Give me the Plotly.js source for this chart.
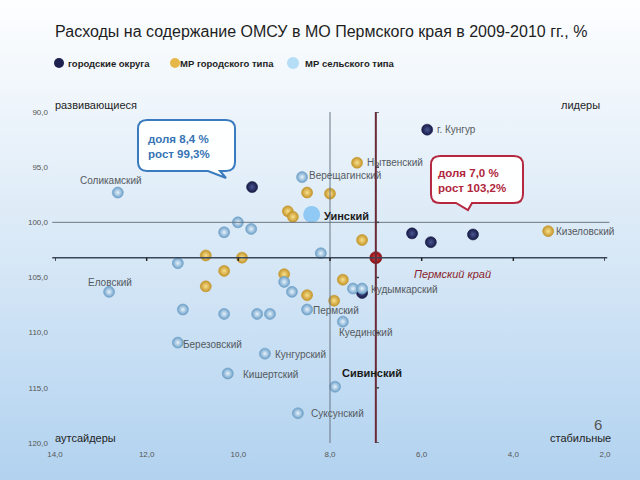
<!DOCTYPE html>
<html><head><meta charset="utf-8">
<script src="https://cdn.plot.ly/plotly-3.0.1.min.js"></script>
<style>
html,body{margin:0;padding:0;}
body{width:640px;height:480px;background:linear-gradient(180deg,#fdfeff 0%,#eef5fb 22%,#d6e7f6 55%,#bdd9f2 85%,#b2d2ef 100%);}
#chart{width:640px;height:480px;}
</style>
</head><body><div id="chart"></div>
<script>
// ---- data: share of expenses (%) on x, growth 2010/2009 (%) on y ----
const cityLabels  = ['г. Кунгур', '', '', '', '', ''];
const cityShare   = [5.88, 9.70, 6.21, 5.80, 4.88, 7.30];
const cityGrowth  = [91.6, 96.8, 101.0, 101.8, 101.1, 106.4];

const urbanLabels = ['Нытвенский', '', '', '', '', '', 'Кизеловский', '', '', '', '', '', '', '', ''];
const urbanShare  = [7.41, 8.50, 8.00, 8.92, 8.81, 7.30, 3.24, 10.71, 9.92, 10.31, 9.00, 7.72, 10.71, 8.50, 7.91];
const urbanGrowth = [94.6, 97.3, 97.4, 99.0, 99.5, 101.6, 100.8, 103.0, 103.2, 104.4, 104.7, 105.2, 105.8, 106.6, 107.1];

const ruralLabels = ['Соликамский', 'Верещагинский', '', '', '', '', '', 'Еловский', '', '', '', 'Кудымкарский', '', '', '', '', 'Пермский', 'Куединский', 'Березовский', 'Кунгурский', 'Кишертский', 'Сивинский', 'Суксунский'];
const ruralShare  = [12.63, 8.61, 10.01, 10.31, 9.72, 11.32, 8.20, 12.82, 9.00, 8.83, 7.50, 7.30, 11.21, 10.31, 9.59, 9.31, 8.50, 7.72, 11.32, 9.42, 10.23, 7.89, 8.70];
const ruralGrowth = [97.3, 95.9, 100.0, 100.9, 100.6, 103.7, 102.8, 106.3, 105.4, 106.3, 106.0, 106.0, 107.9, 108.3, 108.3, 108.3, 107.9, 109.0, 110.9, 111.9, 113.7, 114.9, 117.3];

const highlightLabel = 'Уинский';
const highlightShare = 8.4;
const highlightGrowth = 99.3;

const regionLabel = 'Пермский край';
const regionShare = 7.0;
const regionGrowth = 103.2;

const refShare = 8.0;
const refGrowth = 100.0;

const xTicks = [14, 12, 10, 8, 6, 4, 2];
const yTicks = [90, 95, 100, 105, 110, 115, 120];

const seriesNames = ['городские округа', 'МР городского типа', 'МР сельского типа'];
const quadrantLabels = ['развивающиеся', 'лидеры', 'аутсайдеры', 'стабильные'];
const titleText = 'Расходы на содержание ОМСУ в МО Пермского края в 2009-2010 гг., %';
const slideNumber = '6';

// ---- styles ----
const FONT = 'Liberation Sans, Arial, sans-serif';
const L = 55, R = 35, T = 112, B = 37, W = 640, H = 480;
const pw = W - L - R, ph = H - T - B;
const px = x => (x - L) / pw;
const py = y => (H - B - y) / ph;
const P = (x, y) => px(x).toFixed(4) + ',' + py(y).toFixed(4);
const fmt = v => v.toFixed(1).replace('.', ',');

const labelStyle = {
  'Соликамский': {a: 'center', dx: -7, dy: 12},
  'Еловский': {a: 'center', dx: 1, dy: 9},
  'Верещагинский': {a: 'left', dx: 5, dy: 2},
  'Нытвенский': {a: 'left', dx: 8, dy: 0},
  'г. Кунгур': {a: 'left', dx: 8, dy: 0},
  'Кизеловский': {a: 'left', dx: 6, dy: 0},
  'Кудымкарский': {a: 'left', dx: 7, dy: -1},
  'Пермский': {a: 'left', dx: 4, dy: -1},
  'Куединский': {a: 'left', dx: -6, dy: -11},
  'Березовский': {a: 'left', dx: 3, dy: -2},
  'Кунгурский': {a: 'left', dx: 8, dy: -1},
  'Кишертский': {a: 'left', dx: 13, dy: -1},
  'Сивинский': {a: 'left', dx: 5, dy: 14, bold: true},
  'Суксунский': {a: 'left', dx: 11, dy: 0},
  'Уинский': {a: 'left', dx: 10, dy: -1, bold: true}
};

const seriesStyle = [
  {edge: '#161a45', center: '#4a5693', legend: '#1d2150', lx: 59, tx: 68},
  {edge: '#c4952a', center: '#f8e08c', legend: '#e6b84a', lx: 175, tx: 180},
  {edge: '#6d9fc8', center: '#e6f3fc', legend: '#b6ddf6', lx: 293, tx: 305}
];

function sphere(edge, center, size) {
  return {color: edge, size: size, gradient: {type: 'radial', color: center}, line: {width: 0.6, color: edge}};
}

const seriesX = [cityShare, urbanShare, ruralShare];
const seriesY = [cityGrowth, urbanGrowth, ruralGrowth];

const traces = seriesNames.map((n, i) => ({
  type: 'scatter', mode: 'markers', name: n, x: seriesX[i], y: seriesY[i],
  marker: sphere(seriesStyle[i].edge, seriesStyle[i].center, 11), hoverinfo: 'x+y', showlegend: false
}));
traces.push({type: 'scatter', mode: 'markers', name: highlightLabel, showlegend: false, x: [highlightShare], y: [highlightGrowth],
   marker: {color: '#90c9f3', size: 17, line: {width: 0}}});
traces.push({type: 'scatter', mode: 'markers', name: regionLabel, showlegend: false, x: [regionShare], y: [regionGrowth],
   marker: sphere('#8e0c10', '#d64a4c', 12)});

const annotations = [];
function addLabels(labels, xs, ys) {
  labels.forEach((t, i) => {
    if (!t) return;
    const s = labelStyle[t] || {a: 'left', dx: 6, dy: 0};
    annotations.push({x: xs[i], y: ys[i], xref: 'x', yref: 'y', text: s.bold ? '<b>' + t + '</b>' : t,
      showarrow: false, xanchor: s.a, yanchor: 'middle', xshift: s.dx, yshift: s.dy,
      font: {family: FONT, size: s.bold ? 11 : 10, color: s.bold ? '#1a1a1a' : '#555a60'}});
  });
}
addLabels(cityLabels, cityShare, cityGrowth);
addLabels(urbanLabels, urbanShare, urbanGrowth);
addLabels(ruralLabels, ruralShare, ruralGrowth);
addLabels([highlightLabel], [highlightShare], [highlightGrowth]);
annotations.push({x: regionShare, y: regionGrowth, text: '<i>' + regionLabel + '</i>', showarrow: false,
  xanchor: 'left', yanchor: 'middle', xshift: 36, yshift: -16, font: {family: FONT, size: 11, color: '#8a1f2c'}});

// quadrant labels
const qFont = {family: FONT, size: 11, color: '#1e1e1e'};
annotations.push({xref: 'paper', yref: 'paper', x: px(53), y: py(105), text: quadrantLabels[0], showarrow: false, xanchor: 'left', yanchor: 'middle', font: qFont});
annotations.push({xref: 'paper', yref: 'paper', x: px(580), y: py(105), text: quadrantLabels[1], showarrow: false, xanchor: 'center', yanchor: 'middle', font: qFont});
annotations.push({xref: 'paper', yref: 'paper', x: px(53), y: py(438), text: quadrantLabels[2], showarrow: false, xanchor: 'left', yanchor: 'middle', font: qFont});
annotations.push({xref: 'paper', yref: 'paper', x: px(613), y: py(438), text: quadrantLabels[3], showarrow: false, xanchor: 'right', yanchor: 'middle', font: qFont});
annotations.push({xref: 'paper', yref: 'paper', x: px(598), y: py(424), text: slideNumber, showarrow: false, xanchor: 'center', yanchor: 'middle', font: {family: FONT, size: 15, color: '#555'}});

// legend (drawn manually to match the original spacing)
seriesNames.forEach((n, i) => {
  annotations.push({xref: 'paper', yref: 'paper', x: px(seriesStyle[i].tx), y: py(63), text: '<b>' + n + '</b>', showarrow: false,
    xanchor: 'left', yanchor: 'middle', xshift: -2, font: {family: FONT, size: 9.5, color: '#1e1e1e'}});
});

// callouts
annotations.push({xref: 'paper', yref: 'paper', x: px(146), y: py(146), showarrow: false, xanchor: 'left', yanchor: 'middle', align: 'left',
  text: '<b>доля ' + fmt(highlightShare) + ' %<br>рост ' + fmt(highlightGrowth) + '%</b>', font: {family: FONT, size: 11.5, color: '#3674b5'}});
annotations.push({xref: 'paper', yref: 'paper', x: px(436), y: py(180), showarrow: false, xanchor: 'left', yanchor: 'middle', align: 'left',
  text: '<b>доля ' + fmt(regionShare) + ' %<br>рост ' + fmt(regionGrowth) + '%</b>', font: {family: FONT, size: 11.5, color: '#b0263c'}});

function bubble(x0, y0, x1, y1, r, t0, tipX, tipY, t1) {
  return 'M' + P(x0 + r, y0) + ' L' + P(x1 - r, y0) + ' Q' + P(x1, y0) + ' ' + P(x1, y0 + r) +
    ' L' + P(x1, y1 - r) + ' Q' + P(x1, y1) + ' ' + P(x1 - r, y1) +
    ' L' + P(t1, y1) + ' L' + P(tipX, tipY) + ' L' + P(t0, y1) +
    ' L' + P(x0 + r, y1) + ' Q' + P(x0, y1) + ' ' + P(x0, y1 - r) +
    ' L' + P(x0, y0 + r) + ' Q' + P(x0, y0) + ' ' + P(x0 + r, y0) + ' Z';
}

const shapes = [
  // reference lines
  {type: 'line', xref: 'paper', yref: 'y', x0: -0.005, x1: 1.008, y0: refGrowth, y1: refGrowth, line: {color: '#6a7784', width: 1}},
  {type: 'line', xref: 'x', yref: 'paper', x0: refShare, x1: refShare, y0: 0, y1: 1, line: {color: '#6a7784', width: 1}},
  // axes crossing at the region average
  {type: 'line', xref: 'paper', yref: 'y', x0: -0.005, x1: 1.004, y0: regionGrowth, y1: regionGrowth, line: {color: '#39475a', width: 1.5}},
  {type: 'line', xref: 'x', yref: 'paper', x0: regionShare, x1: regionShare, y0: 0, y1: 1, line: {color: '#6a2a36', width: 2}},
  {type: 'path', xref: 'paper', yref: 'paper', path: bubble(138, 120, 235, 171, 9, 208, 226, 178, 220), fillcolor: 'rgba(255,255,255,0.95)', line: {color: '#3a7bbf', width: 2}},
  {type: 'path', xref: 'paper', yref: 'paper', path: bubble(431, 156, 523, 203, 9, 456, 468, 210, 472), fillcolor: 'rgba(255,255,255,0.95)', line: {color: '#b5283f', width: 2}}
];
xTicks.forEach(v => shapes.push({type: 'line', xref: 'x', yref: 'y', x0: v, x1: v, y0: regionGrowth, y1: regionGrowth + 0.3, line: {color: '#222', width: 1.5}}));
yTicks.forEach(v => shapes.push({type: 'line', xref: 'x', yref: 'y', x0: regionShare, x1: regionShare - 0.07, y0: v, y1: v, line: {color: '#444', width: 1.5}}));
// legend dots
seriesStyle.forEach((s, i) => {
  const r = i === 2 ? 6 : 5;
  shapes.push({type: 'circle', xref: 'paper', yref: 'paper', x0: px(s.lx - r), x1: px(s.lx + r), y0: py(63 + r), y1: py(63 - r),
    fillcolor: s.legend, line: {width: 0}});
});

const layout = {
  width: W, height: H,
  paper_bgcolor: 'rgba(0,0,0,0)', plot_bgcolor: 'rgba(0,0,0,0)',
  separators: ', ',
  margin: {l: L, r: R, t: T, b: B},
  title: {text: titleText, x: 0.502, xref: 'container', y: 1 - 31 / H, yref: 'container', yanchor: 'middle', xanchor: 'center',
    font: {family: FONT, size: 16, color: '#1e1e1e'}},
  xaxis: {range: [14, 2], tickvals: xTicks, tickformat: '.1f', showgrid: false, zeroline: false, showline: false, ticks: '',
    tickfont: {family: FONT, size: 8, color: '#555'}, ticklabelstandoff: 5},
  yaxis: {range: [120, 90], tickvals: yTicks, tickformat: '.1f', showgrid: false, zeroline: false, showline: false, ticks: '',
    tickfont: {family: FONT, size: 8, color: '#555'}, ticklabelstandoff: 6},
  showlegend: false,
  annotations: annotations,
  shapes: shapes
};

Plotly.newPlot('chart', traces, layout, {displayModeBar: false, staticPlot: true});
</script>
</body></html>
